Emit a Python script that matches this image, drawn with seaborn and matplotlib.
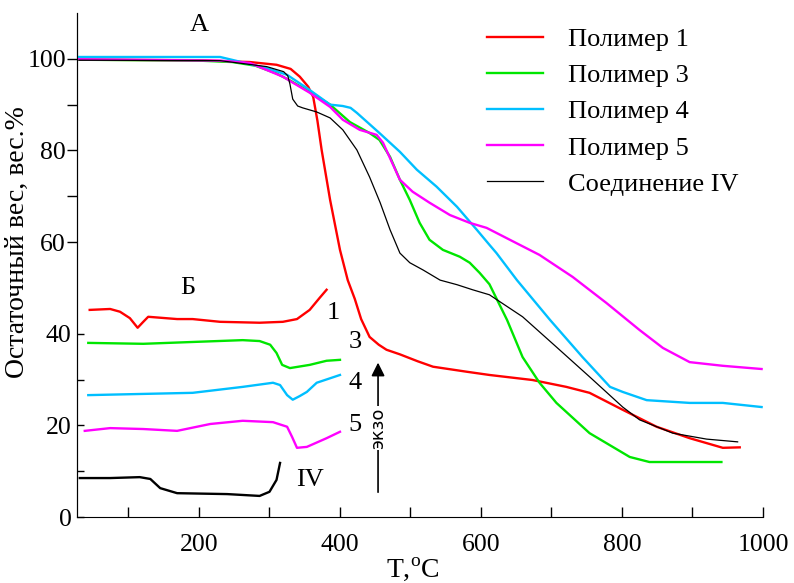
import matplotlib
matplotlib.use('Agg')
import matplotlib.pyplot as plt
import seaborn as sns

plt.rcParams['font.family'] = ['Liberation Serif', 'DejaVu Serif']
plt.rcParams['mathtext.fontset'] = 'custom'
plt.rcParams['mathtext.rm'] = 'Liberation Serif'

# TGA curves (T, residual weight %)
p1_t = [30, 200, 250, 272, 310, 330, 343, 355, 362, 368, 374, 386, 400, 411, 421, 430, 442, 455, 466, 485,
        510, 532, 580, 612, 673, 721, 754, 801, 849, 896, 943, 967]
p1_w = [99.8, 99.7, 99.4, 99.3, 98.7, 97.8, 96.1, 93.9, 91.7, 86.5, 80.1, 69.2, 58.3, 51.7, 47.6, 43.2, 39.3, 37.6,
        36.5, 35.5, 34.0, 32.8, 31.7, 31.0, 29.9, 28.4, 27.1, 23.4, 19.7, 17.2, 15.1, 15.2]

p3_t = [30, 200, 247, 280, 310, 330, 357, 386, 414, 442, 456, 471, 485, 499, 513, 527, 546, 570, 584, 598,
        612, 637, 659, 683, 707, 754, 811, 839, 941]
p3_w = [99.8, 99.6, 99.3, 98.5, 96.8, 95.2, 92.8, 90.0, 86.2, 83.8, 82.3, 78.6, 73.6, 69.2, 64.2, 60.5, 58.3,
        56.8, 55.5, 53.3, 50.8, 43.0, 34.9, 29.3, 24.9, 18.3, 13.1, 12.0, 12.0]

p4_t = [30, 230, 260, 300, 325, 357, 386, 404, 415, 424, 440, 456, 485, 509, 537, 566, 594, 612, 622, 651,
        698, 744, 783, 801, 835, 896, 943, 998]
p4_w = [100.4, 100.4, 99.3, 97.8, 96.5, 93.2, 90.0, 89.7, 89.3, 88.2, 86.0, 83.8, 79.7, 75.8, 72.1, 67.7, 62.7,
        59.4, 57.6, 51.7, 43.0, 34.9, 28.4, 27.3, 25.5, 24.9, 24.9, 24.0]

p5_t = [30, 230, 272, 319, 357, 386, 404, 428, 452, 461, 474, 485, 503, 527, 556, 584, 608, 641, 683, 730,
        778, 825, 858, 896, 943, 998]
p5_w = [99.9, 99.6, 99.1, 96.1, 92.6, 89.5, 86.7, 84.5, 83.4, 81.7, 77.3, 73.6, 71.0, 68.6, 65.9, 64.2, 63.1,
        60.5, 57.2, 52.4, 46.7, 40.8, 36.9, 33.8, 33.0, 32.3]

c4_t = [30, 230, 296, 320, 326, 329, 333, 340, 347, 367, 386, 404, 424, 442, 457, 471, 485, 499, 518, 542,
        566, 588, 612, 659, 707, 754, 801, 825, 872, 920, 964]
c4_w = [99.7, 99.6, 98.3, 97.2, 96.3, 94.5, 91.2, 89.7, 89.3, 88.4, 87.1, 84.5, 80.1, 74.2, 68.6, 62.7, 57.6,
        55.5, 53.9, 51.7, 50.7, 49.6, 48.5, 43.7, 37.1, 30.6, 24.0, 21.2, 18.3, 17.0, 16.4]

# DSC curves (inset "Б", plotted in the same frame)
d1_t = [45, 74, 88, 102, 113, 121, 128, 169, 191, 230, 286, 319, 339, 357, 371, 381]
d1_y = [45.2, 45.4, 44.8, 43.4, 41.3, 42.6, 43.7, 43.2, 43.2, 42.6, 42.4, 42.6, 43.2, 45.2, 47.8, 49.6]

d3_t = [43, 121, 191, 262, 286, 301, 310, 318, 329, 357, 381, 400]
d3_y = [38.0, 37.8, 38.2, 38.6, 38.4, 37.6, 35.8, 33.2, 32.5, 33.2, 34.1, 34.3]

d4_t = [43, 191, 262, 305, 315, 325, 333, 343, 353, 367, 400]
d4_y = [26.6, 27.1, 28.4, 29.3, 28.8, 26.6, 25.6, 26.4, 27.3, 29.3, 31.0]

d5_t = [38, 74, 121, 169, 216, 262, 305, 325, 332, 339, 353, 381, 400]
d5_y = [18.8, 19.4, 19.2, 18.8, 20.3, 21.0, 20.7, 19.7, 17.5, 15.1, 15.3, 17.2, 18.6]

dIV_t = [31, 74, 116, 131, 145, 169, 240, 286, 300, 310, 315]
dIV_y = [8.5, 8.5, 8.7, 8.3, 6.3, 5.2, 5.0, 4.6, 5.5, 8.1, 11.8]

tga = [(p1_t, p1_w, '#ff0000', 'Полимер 1', 1.7),
       (p3_t, p3_w, '#00e600', 'Полимер 3', 1.7),
       (p4_t, p4_w, '#00bfff', 'Полимер 4', 1.7),
       (p5_t, p5_w, '#ff00ff', 'Полимер 5', 1.7),
       (c4_t, c4_w, '#000000', 'Соединение IV', 0.9)]

dsc = [(d1_t, d1_y, '#ff0000'), (d3_t, d3_y, '#00e600'), (d4_t, d4_y, '#00bfff'),
       (d5_t, d5_y, '#ff00ff'), (dIV_t, dIV_y, '#000000')]

fig = plt.figure(figsize=(7.94, 5.83), dpi=100)
ax = fig.add_axes([77 / 794, 1 - 517 / 583, 686 / 794, 504 / 583])

for t, w, c, name, lw in tga:
    sns.lineplot(x=t, y=w, color=c, label=name, linewidth=lw, estimator=None, sort=False, ax=ax)
for t, y, c in dsc:
    sns.lineplot(x=t, y=y, color=c, linewidth=1.7, estimator=None, sort=False, legend=False, ax=ax)

ax.set_xlim(27, 1000)
ax.set_ylim(0, 110)
ax.spines['top'].set_visible(False)
ax.spines['right'].set_visible(False)

ax.set_xticks([200, 400, 600, 800, 1000])
ax.set_xticks([100, 300, 500, 700, 900], minor=True)
ax.tick_params(axis='x', which='both', direction='in', length=7, width=1, pad=12, labelsize=18.5)

ax.set_yticks([60, 80, 100])
ax.set_yticks([70, 90], minor=True)
ax.tick_params(axis='y', which='both', direction='out', length=7, width=1, pad=1, labelsize=18.5)

sec = ax.secondary_yaxis('left')
sec.set_yticks([0, 20, 40])
sec.set_yticks([10, 30], minor=True)
sec.tick_params(axis='y', which='both', direction='in', length=5, width=1, pad=4, labelsize=18.5)

ax.set_xlabel(r'T,$^{\mathregular{o}}$C', fontsize=20, va='baseline')
ax.xaxis.set_label_coords(0.49, -0.119)
ax.set_ylabel('Остаточный вес, вес.%', fontsize=20)
ax.yaxis.set_label_coords(-0.068, 0.545)

ax.legend(loc='upper left', bbox_to_anchor=(0.598, 0.971), frameon=False, fontsize=19,
          handlelength=2.1, handletextpad=0.95, labelspacing=0.48, borderpad=0, borderaxespad=0)

ax.text(200, 107.4, 'А', fontsize=19, ha='center', va='center')
ax.text(184, 50.0, 'Б', fontsize=19, ha='center', va='center')
for lab, tx, ty in [('1', 390, 44.5), ('3', 421, 38.2), ('4', 421, 29.3), ('5', 421, 20.1), ('IV', 357, 8.1)]:
    ax.text(tx, ty, lab, fontsize=19, ha='center', va='center')

ax.annotate('', xy=(454, 34.3), xytext=(454, 4.8),
            arrowprops=dict(arrowstyle='-|>', color='black', lw=1.2, mutation_scale=20))
ax.text(454, 19.4, 'экзо', fontsize=13, family='DejaVu Sans', rotation=90, ha='center', va='center',
        bbox=dict(facecolor='white', edgecolor='none', pad=1))

fig.savefig('out.png', dpi=100)
